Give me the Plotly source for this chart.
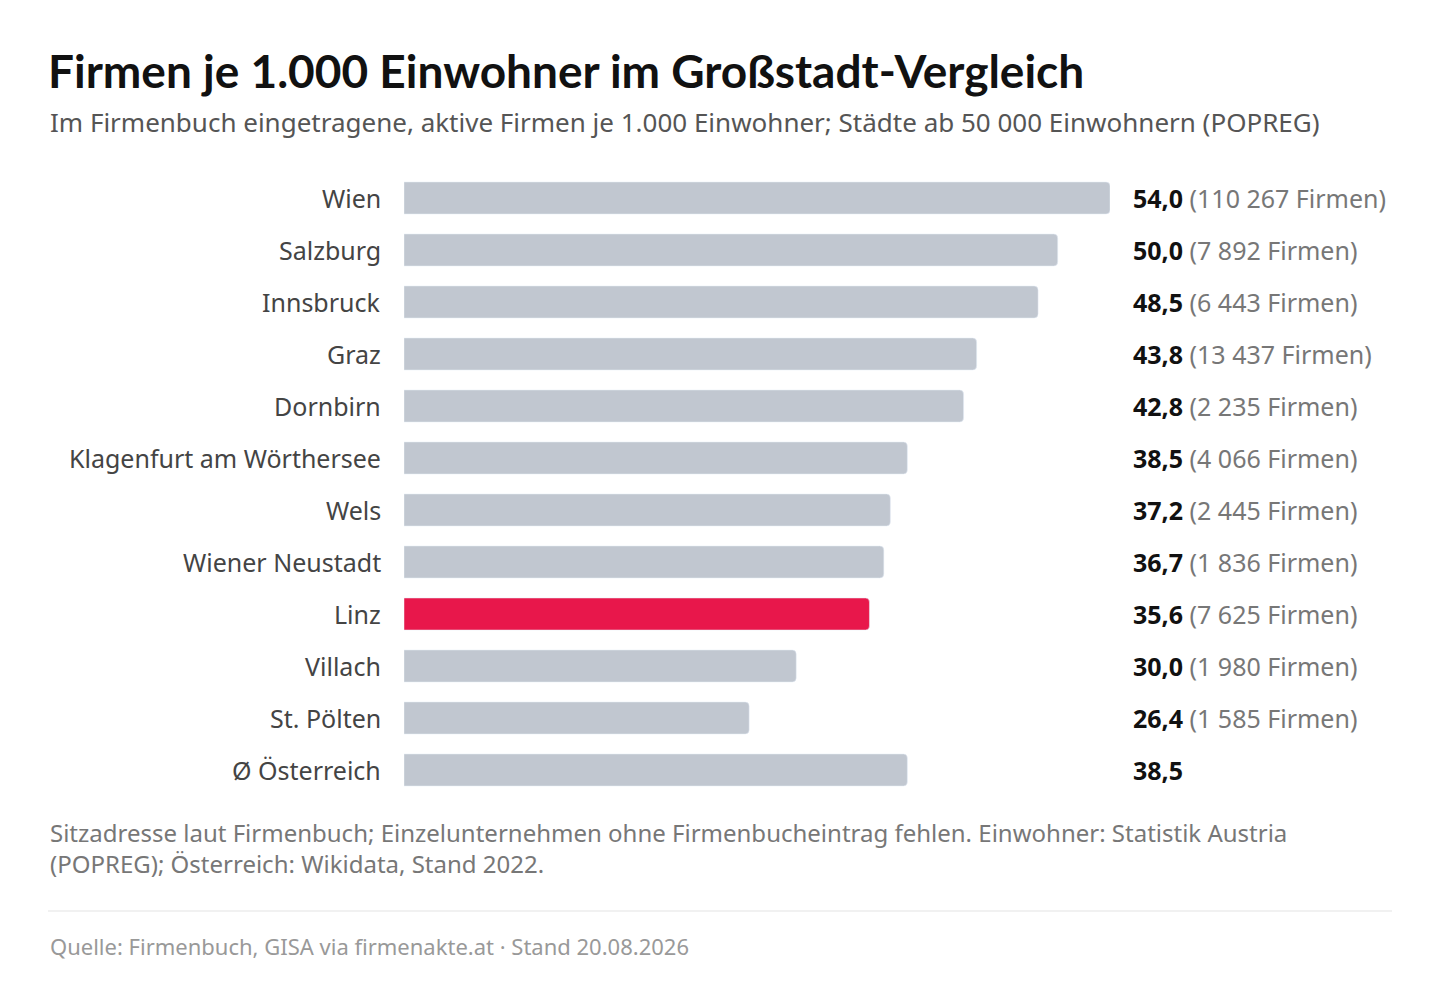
import plotly.graph_objects as go

cities = ["Wien", "Salzburg", "Innsbruck", "Graz", "Dornbirn", "Klagenfurt am Wörthersee",
          "Wels", "Wiener Neustadt", "Linz", "Villach", "St. Pölten", "Ø Österreich"]
per_1000 = [54.0, 50.0, 48.5, 43.8, 42.8, 38.5, 37.2, 36.7, 35.6, 30.0, 26.4, 38.5]
firms = ["110 267", "7 892", "6 443", "13 437", "2 235", "4 066", "2 445", "1 836",
         "7 625", "1 980", "1 585", None]

W, H = 1440, 992
OFF = 8  # page body margin
GREY, RED = "#c1c7d0", "#e8174b"
FONT = "Noto Sans"

colors = [RED if c == "Linz" else GREY for c in cities]
idx = list(range(len(cities)))

fig = go.Figure(go.Bar(
    x=per_1000, y=idx, orientation="h", marker=dict(color=colors, cornerradius=4),
    width=32 / 52, hoverinfo="skip",
))

def px_x(p):
    return (p - OFF) / W

def px_y(p):
    return 1 - (p - OFF) / H

fig.update_layout(
    width=W, height=H, margin=dict(l=0, r=0, t=0, b=0),
    paper_bgcolor="white", plot_bgcolor="white", showlegend=False,
    font=dict(family=FONT, color="#444"),
    xaxis=dict(domain=[px_x(404), px_x(1110)], range=[0, 54], visible=False),
    yaxis=dict(domain=[px_y(796), px_y(172)], range=[11.5, -0.5], visible=False),
)

ann = []
for i, (c, v, f) in enumerate(zip(cities, per_1000, firms)):
    ann.append(dict(x=px_x(383), y=i, xref="paper", yref="y", text=c, showarrow=False,
                    xanchor="right", yanchor="middle", font=dict(size=25, color="#444")))
    val = f"{v:.1f}".replace(".", ",")
    txt = f"<b>{val}</b>"
    if f:
        txt += f" <span style='color:#777'>({f} Firmen)</span>"
    ann.append(dict(x=px_x(1131), y=i, xref="paper", yref="y", text=txt, showarrow=False,
                    xanchor="left", yanchor="middle", font=dict(size=25, color="#111")))

ann += [
    dict(x=px_x(46), y=px_y(70), xref="paper", yref="paper", xanchor="left", yanchor="middle",
         showarrow=False, text="<b>Firmen je 1.000 Einwohner im Großstadt-Vergleich</b>",
         font=dict(family="Lato", size=46, color="#111", weight=900)),
    dict(x=px_x(48), y=px_y(122), xref="paper", yref="paper", xanchor="left", yanchor="middle",
         showarrow=False,
         text="Im Firmenbuch eingetragene, aktive Firmen je 1.000 Einwohner; Städte ab 50 000 Einwohnern (POPREG)",
         font=dict(size=26, color="#555")),
    dict(x=px_x(48), y=px_y(848), xref="paper", yref="paper", xanchor="left", yanchor="middle",
         showarrow=False, align="left",
         text="Sitzadresse laut Firmenbuch; Einzelunternehmen ohne Firmenbucheintrag fehlen. Einwohner: Statistik Austria<br>(POPREG); Österreich: Wikidata, Stand 2022.",
         font=dict(size=24, color="#777")),
    dict(x=px_x(48), y=px_y(946), xref="paper", yref="paper", xanchor="left", yanchor="middle",
         showarrow=False, text="Quelle: Firmenbuch, GISA via firmenakte.at · Stand 20.08.2026",
         font=dict(size=22, color="#999")),
]
fig.update_layout(annotations=ann)
fig.add_shape(type="line", xref="paper", yref="paper", x0=px_x(48), x1=px_x(1392),
              y0=px_y(911), y1=px_y(911), line=dict(color="#e3e3e3", width=1))

fig.write_html("out.html")
